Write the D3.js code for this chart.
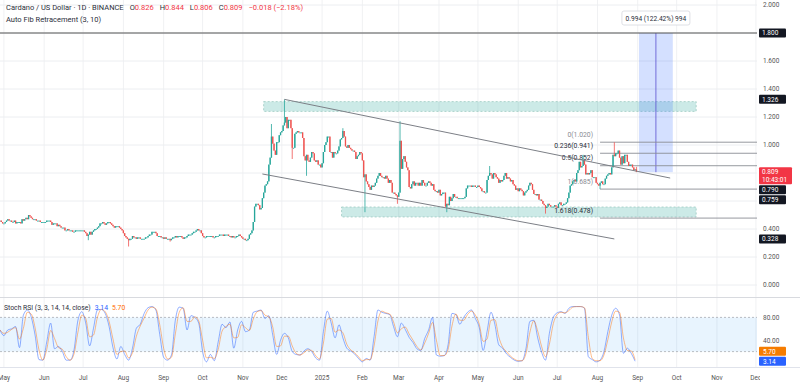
<!DOCTYPE html>
<html><head><meta charset="utf-8">
<script src="https://cdn.jsdelivr.net/npm/d3@7"></script>
<style>body{margin:0;background:#fff;overflow:hidden}svg{display:block;font-family:Roboto,"DejaVu Sans",sans-serif}</style>
</head><body><svg id="c" width="800" height="387"></svg>
<script>
// ---------------- DATA ----------------
const titleText = "Cardano / US Dollar · 1D · BINANCE";
const ohlcLabels = ["O","H","L","C"];
const ohlcValues = ["0.826","0.844","0.806","0.809"];
const changeText = "−0.018 (−2.18%)";
const fibTitle = "Auto Fib Retracement (3, 10)";
const rsiTitle = "Stoch RSI (3, 3, 14, 14, close)";
const rsiLastK = 3.14, rsiLastD = 5.70;

const startDate = "2024-04-28";
const closeApr24 = [0.46,0.45,0.44];
const closeMay24 = [0.44,0.45,0.46,0.47,0.46,0.46,0.45,0.45,0.46,0.44,0.45,0.45,0.45,0.44,0.47,0.46,0.47,0.48,0.47,0.50,0.49,0.48,0.47,0.47,0.47,0.46,0.46,0.46,0.45,0.45,0.45];
const closeJun24 = [0.45,0.45,0.46,0.46,0.46,0.45,0.43,0.44,0.44,0.44,0.42,0.43,0.42,0.41,0.41,0.41,0.39,0.39,0.40,0.39,0.39,0.39,0.38,0.38,0.39,0.39,0.39,0.39,0.39,0.39];
const closeJul24 = [0.39,0.38,0.37,0.35,0.36,0.38,0.36,0.38,0.39,0.40,0.40,0.41,0.42,0.44,0.44,0.45,0.44,0.43,0.44,0.45,0.45,0.44,0.43,0.42,0.41,0.42,0.42,0.42,0.41,0.40,0.39];
const closeAug24 = [0.37,0.35,0.34,0.33,0.32,0.33,0.33,0.35,0.34,0.34,0.33,0.34,0.34,0.33,0.33,0.33,0.33,0.34,0.34,0.35,0.36,0.36,0.38,0.38,0.38,0.37,0.35,0.35,0.35,0.34,0.34];
const closeSep24 = [0.33,0.34,0.33,0.33,0.33,0.32,0.33,0.34,0.34,0.35,0.34,0.35,0.35,0.35,0.34,0.33,0.34,0.34,0.35,0.36,0.36,0.36,0.37,0.38,0.38,0.39,0.40,0.39,0.39,0.37];
const closeOct24 = [0.35,0.34,0.34,0.35,0.35,0.35,0.35,0.35,0.34,0.34,0.35,0.35,0.35,0.36,0.36,0.36,0.35,0.36,0.36,0.36,0.35,0.35,0.34,0.35,0.34,0.34,0.35,0.35,0.36,0.35,0.34];
const closeNov24 = [0.33,0.33,0.32,0.32,0.33,0.36,0.37,0.39,0.45,0.56,0.58,0.58,0.57,0.54,0.55,0.62,0.66,0.71,0.72,0.74,0.86,0.91,1.06,1.01,0.96,0.93,1.02,1.02,1.07,1.09];
const closeDec24 = [1.10,1.14,1.16,1.20,1.12,1.18,1.18,1.12,0.98,0.98,1.08,1.09,1.10,1.09,1.09,1.09,1.05,0.92,0.89,0.93,0.89,0.88,0.91,0.95,0.94,0.89,0.88,0.89,0.86,0.86,0.84];
const closeJan25 = [0.87,0.95,1.00,1.02,1.06,1.06,0.95,0.95,0.91,0.95,0.94,0.94,0.96,0.99,1.04,1.05,1.10,1.06,0.99,0.98,1.00,0.98,0.97,0.96,0.96,0.95,0.90,0.92,0.93,0.95,0.94];
const closeFeb25 = [0.89,0.77,0.79,0.74,0.72,0.70,0.68,0.71,0.70,0.71,0.73,0.76,0.78,0.80,0.78,0.77,0.77,0.76,0.78,0.76,0.73,0.75,0.73,0.66,0.66,0.65,0.64,0.63];
const closeMar25 = [0.66,1.03,0.83,0.90,0.92,0.88,0.84,0.82,0.70,0.69,0.72,0.74,0.71,0.73,0.73,0.71,0.73,0.71,0.75,0.73,0.71,0.71,0.73,0.74,0.73,0.71,0.72,0.68,0.67,0.67,0.66];
const closeApr25 = [0.68,0.64,0.65,0.66,0.66,0.56,0.58,0.57,0.63,0.60,0.62,0.65,0.63,0.63,0.62,0.62,0.62,0.62,0.62,0.62,0.63,0.69,0.71,0.71,0.71,0.70,0.71,0.71,0.70,0.70];
const closeMay25 = [0.71,0.70,0.69,0.67,0.67,0.66,0.66,0.75,0.78,0.80,0.79,0.76,0.80,0.79,0.77,0.76,0.73,0.75,0.74,0.75,0.78,0.80,0.76,0.77,0.76,0.74,0.75,0.72,0.71,0.68,0.69];
const closeJun25 = [0.67,0.69,0.68,0.67,0.64,0.66,0.67,0.68,0.71,0.73,0.72,0.68,0.65,0.65,0.64,0.65,0.61,0.61,0.60,0.58,0.57,0.55,0.56,0.58,0.57,0.56,0.56,0.56,0.57,0.56];
const closeJul25 = [0.55,0.58,0.59,0.57,0.57,0.58,0.58,0.59,0.62,0.66,0.71,0.72,0.74,0.75,0.74,0.80,0.82,0.88,0.84,0.85,0.89,0.86,0.79,0.80,0.79,0.80,0.82,0.77,0.77,0.77,0.73];
const closeAug25 = [0.72,0.71,0.73,0.74,0.72,0.72,0.76,0.78,0.79,0.80,0.79,0.84,0.93,0.92,0.94,0.94,0.96,0.91,0.86,0.92,0.87,0.93,0.93,0.88,0.85,0.86,0.86,0.84,0.82,0.826,0.809];

const wickHigh = [["2024-11-23",1.15],["2024-12-03",1.326],["2025-01-17",1.12],["2025-03-02",1.17],["2025-05-10",0.85],["2025-07-21",0.93],["2025-08-14",1.02],["2025-08-31",0.844]];
const wickLow = [["2024-07-05",0.32],["2024-08-05",0.275],["2024-09-06",0.31],["2024-12-09",0.90],["2024-12-20",0.78],["2025-02-03",0.52],["2025-02-28",0.58],["2025-04-07",0.52],["2025-06-22",0.51],["2025-08-03",0.685],["2025-08-31",0.806]];

// Stoch RSI samples, one every 3 days from startDate
const rsiStepDays = 3;
const rsiK = [58,48,58,60,64,27,84,93,81,49,6,5,37,70,25,29,20,5,5,23,75,90,70,30,61,93,94,87,64,27,7,29,15,5,26,61,68,87,97,99,93,50,10,5,14,75,98,96,58,83,80,70,20,2,15,4,37,68,62,72,26,58,73,55,58,89,91,93,78,83,49,15,40,52,44,20,15,14,21,25,20,9,5,55,91,70,44,67,44,26,21,16,8,2,8,5,46,93,89,87,85,64,46,70,59,45,36,25,22,43,58,80,14,12,13,32,87,85,68,80,89,93,78,62,22,55,89,68,32,26,16,10,5,3,4,26,73,75,44,19,5,52,80,88,90,87,96,99,99,99,96,11,6,2,5,20,55,84,96,84,17,26,17,3.14];
const rsiD = [58,52,54,59,62,42,61,89,86,62,23,5,24,57,43,27,24,11,5,16,54,84,78,46,49,80,94,90,73,42,15,20,21,9,18,47,65,79,93,98,95,67,26,7,10,51,89,97,73,73,81,74,40,9,10,8,24,56,64,68,44,45,67,62,57,77,90,92,84,81,63,29,30,47,47,30,17,14,18,23,22,13,7,35,77,78,54,58,53,33,23,18,11,4,6,6,30,74,91,88,86,72,53,60,63,51,40,29,23,35,52,71,40,13,13,24,65,86,75,75,85,91,84,68,38,42,75,76,46,28,20,12,7,4,4,17,54,74,56,29,11,33,69,85,89,88,92,98,99,99,97,45,8,4,4,14,41,72,91,89,44,22,21,5.70];

// Drawings
const channelUpper = [["2024-12-03",1.326],["2025-09-26",0.764]];
const channelLower = [["2024-11-16",0.793],["2025-08-14",0.329]];
const zoneUpper = {from:"2024-11-17", to:"2025-10-16", top:1.31, bottom:1.24};
const zoneLower = {from:"2025-01-16", to:"2025-10-16", top:0.557, bottom:0.486};
const fibStart = "2025-08-03";
const fibRatios = ["0","0.236","0.5","1","1.618"];
const fibPrices = [1.020,0.941,0.852,0.685,0.478];
const fibStrong = [false,true,true,false,true];
const measure = {from:"2025-09-02", to:"2025-09-28", low:0.806, high:1.800, text:"0.994 (122.42%) 994"};
const targetLine = 1.800;
const priceTicks = [0,0.2,0.4,0.6,0.8,1.0,1.2,1.4,1.6,1.8,2.0];
const priceMarks = [1.800,1.326,0.790,0.759,0.328];
const lastPrice = 0.809, countdown = "10:43:01";
const rsiTicks = [80,40];
const rsiBands = [80,20];

// ---------------- SETUP ----------------
const svg = d3.select("#c");
const W = 800, H = 387, plotR = 757;
const DAY = 864e5;
const parse = s => new Date(s + "T00:00:00Z");
const t0 = parse(startDate);
const x = d3.scaleUtc().domain([parse("2024-04-28"), parse("2025-12-08")]).range([0, 765]);
const y = d3.scaleLinear().domain([0, 2]).range([285, 5]);
const yR = d3.scaleLinear().domain([0, 100]).range([363, 306]);
const up = "#26a69a", dn = "#ef5350", red = "#f23645";

const defs = svg.append("defs");
defs.append("clipPath").attr("id","cp").append("rect").attr("x",0).attr("y",0).attr("width",plotR).attr("height",297);
defs.append("clipPath").attr("id","cr").append("rect").attr("x",0).attr("y",297).attr("width",plotR).attr("height",70);
defs.append("clipPath").attr("id","ct").append("rect").attr("x",0).attr("y",367).attr("width",760).attr("height",20);

// grid
const months = d3.utcMonths(parse("2024-05-01"), parse("2025-12-31"));
svg.append("g").selectAll("line").data(months).join("line")
  .attr("x1", d => x(d)).attr("x2", d => x(d)).attr("y1", 0).attr("y2", 367)
  .attr("stroke", "#f0f1f3").attr("stroke-width", 1);
svg.append("g").selectAll("line").data(priceTicks).join("line")
  .attr("x1", 0).attr("x2", plotR).attr("y1", d => y(d)).attr("y2", d => y(d))
  .attr("stroke", "#eceef1").attr("stroke-width", 1);

// separators
svg.append("line").attr("x1",0).attr("x2",W).attr("y1",297.5).attr("y2",297.5).attr("stroke","#d8dadf");
svg.append("line").attr("x1",0).attr("x2",W).attr("y1",367.5).attr("y2",367.5).attr("stroke","#e0e3eb");

const gp = svg.append("g").attr("clip-path","url(#cp)");

// zones
[zoneUpper, zoneLower].forEach(z => {
  gp.append("rect").attr("x", x(parse(z.from))).attr("y", y(z.top))
    .attr("width", x(parse(z.to)) - x(parse(z.from))).attr("height", y(z.bottom) - y(z.top))
    .attr("fill", "rgba(0,150,136,0.2)").attr("stroke", "#9cc9c1").attr("stroke-width", 0.8).attr("stroke-dasharray", "2,2");
});

// measure box
const mx0 = x(parse(measure.from)), mx1 = x(parse(measure.to));
gp.append("rect").attr("x", mx0).attr("y", y(measure.high)).attr("width", mx1 - mx0).attr("height", y(measure.low) - y(measure.high))
  .attr("fill", "rgba(41,98,255,0.2)");
gp.append("line").attr("x1", (mx0+mx1)/2).attr("x2", (mx0+mx1)/2).attr("y1", y(measure.high)).attr("y2", y(measure.low))
  .attr("stroke", "#5b4fcf").attr("stroke-width", 0.8);

// target horizontal line
gp.append("line").attr("x1", 0).attr("x2", plotR).attr("y1", y(targetLine)).attr("y2", y(targetLine))
  .attr("stroke", "#555").attr("stroke-width", 1);

// fib lines
const fx = x(parse(fibStart));
fibPrices.forEach((p, i) => {
  gp.append("line").attr("x1", fx).attr("x2", plotR).attr("y1", y(p)).attr("y2", y(p))
    .attr("stroke", "#8a8d94").attr("stroke-width", 0.9);
  gp.append("text").attr("x", fx - 7).attr("y", y(p) - 5.5).attr("text-anchor", "end")
    .attr("font-size", 6.8).attr("fill", fibStrong[i] ? "#2a2e39" : "#8a8d94")
    .text(`${fibRatios[i]}(${p.toFixed(3)})`);
});

// candles
const closeSeries = [closeApr24,closeMay24,closeJun24,closeJul24,closeAug24,closeSep24,closeOct24,closeNov24,closeDec24,
  closeJan25,closeFeb25,closeMar25,closeApr25,closeMay25,closeJun25,closeJul25,closeAug25].flat();
const hiMap = new Map(wickHigh), loMap = new Map(wickLow);
const candles = closeSeries.map((c, i) => {
  const date = new Date(+t0 + i * DAY);
  const key = d3.utcFormat("%Y-%m-%d")(date);
  const open = i ? closeSeries[i-1] : c;
  return {date, open, close: c,
    high: hiMap.has(key) ? hiMap.get(key) : Math.max(open, c),
    low: loMap.has(key) ? loMap.get(key) : Math.min(open, c)};
});
const col = d => d.close >= d.open ? up : dn;
gp.append("g").selectAll("line").data(candles).join("line")
  .attr("x1", d => x(d.date)).attr("x2", d => x(d.date))
  .attr("y1", d => y(d.high)).attr("y2", d => y(d.low))
  .attr("stroke", col).attr("stroke-width", 0.8);
gp.append("g").selectAll("rect").data(candles).join("rect")
  .attr("x", d => x(d.date) - 0.65).attr("width", 1.3)
  .attr("y", d => y(Math.max(d.open, d.close)))
  .attr("height", d => Math.max(0.9, Math.abs(y(d.open) - y(d.close))))
  .attr("fill", col);

// channel lines
[channelUpper, channelLower].forEach(l => {
  gp.append("line").attr("x1", x(parse(l[0][0]))).attr("y1", y(l[0][1]))
    .attr("x2", x(parse(l[1][0]))).attr("y2", y(l[1][1]))
    .attr("stroke", "#7c7f86").attr("stroke-width", 1);
});

// measure label
const mlx = (mx0 + mx1) / 2;
svg.append("rect").attr("x", mlx - 34).attr("y", 11).attr("width", 68).attr("height", 14).attr("rx", 2)
  .attr("fill", "#fff").attr("stroke", "#d6d8de").attr("stroke-width", 0.8);
svg.append("text").attr("x", mlx).attr("y", 20.5).attr("text-anchor", "middle").attr("font-size", 6.6)
  .attr("fill", "#2a2e39").text(measure.text);

// header
const hdr = svg.append("text").attr("x", 6).attr("y", 10).attr("font-size", 7.5).attr("fill", "#2a2e39");
hdr.append("tspan").text(titleText);
ohlcLabels.forEach((l, i) => {
  hdr.append("tspan").attr("dx", 6).text(l);
  hdr.append("tspan").attr("fill", red).text(ohlcValues[i]);
});
hdr.append("tspan").attr("dx", 6).attr("fill", red).text(changeText);
svg.append("text").attr("x", 6).attr("y", 22).attr("font-size", 7.5).attr("fill", "#2a2e39").text(fibTitle);

// price axis labels
const boxes = [{v:lastPrice, h:17, fill:red, lines:[lastPrice.toFixed(3), countdown], w:33}]
  .concat(priceMarks.map(v => ({v, h:9, fill:"#131722", lines:[v.toFixed(3)], w:27})));
boxes.forEach(b => b.top = y(b.v) - 4.5);
boxes.sort((a, b) => a.top - b.top);
let prevBottom = -1e9;
boxes.forEach(b => { b.top = Math.max(b.top, prevBottom + 1); prevBottom = b.top + b.h; });
const visibleTicks = priceTicks.filter(t => !boxes.some(b => y(t) > b.top - 4 && y(t) < b.top + b.h + 4));
svg.append("g").selectAll("text").data(visibleTicks).join("text")
  .attr("x", 763).attr("y", d => y(d) + 2.3).attr("font-size", 6.5).attr("fill", "#555")
  .text(d => d.toFixed(3));
boxes.forEach(b => {
  svg.append("rect").attr("x", 759).attr("y", b.top).attr("width", b.w).attr("height", b.h).attr("fill", b.fill).attr("rx", 1);
  b.lines.forEach((t, i) => svg.append("text").attr("x", 762).attr("y", b.top + 6.8 + i * 7.5)
    .attr("font-size", 6.5).attr("fill", "#fff").text(t));
});

// ---------------- STOCH RSI ----------------
const gr = svg.append("g").attr("clip-path", "url(#cr)");
gr.append("rect").attr("x", 0).attr("width", plotR).attr("y", yR(rsiBands[0])).attr("height", yR(rsiBands[1]) - yR(rsiBands[0]))
  .attr("fill", "rgba(33,150,243,0.1)");
rsiBands.forEach(v => gr.append("line").attr("x1", 0).attr("x2", plotR).attr("y1", yR(v)).attr("y2", yR(v))
  .attr("stroke", "#a9acb3").attr("stroke-width", 0.8).attr("stroke-dasharray", "2,2"));
const rdate = i => new Date(+t0 + i * rsiStepDays * DAY);
const rl = d3.line().x((d, i) => x(rdate(i))).y(d => yR(d)).curve(d3.curveMonotoneX);
gr.append("path").attr("d", rl(rsiK)).attr("fill", "none").attr("stroke", "#2962ff").attr("stroke-opacity", 0.5).attr("stroke-width", 1);
gr.append("path").attr("d", rl(rsiD)).attr("fill", "none").attr("stroke", "#ff6d00").attr("stroke-opacity", 0.45).attr("stroke-width", 1);

const rt = svg.append("text").attr("x", 4).attr("y", 310).attr("font-size", 6.8).attr("fill", "#2a2e39");
rt.append("tspan").text(rsiTitle);
rt.append("tspan").attr("dx", 4).attr("fill", "#2962ff").text(rsiLastK.toFixed(2));
rt.append("tspan").attr("dx", 4).attr("fill", "#ff6d00").text(rsiLastD.toFixed(2));

svg.append("g").selectAll("text").data(rsiTicks).join("text")
  .attr("x", 763).attr("y", d => yR(d) + 2.3).attr("font-size", 6.5).attr("fill", "#555").text(d => d.toFixed(2));
const rbox = [{v:rsiLastK, fill:"#2962ff"}, {v:rsiLastD, fill:"#f57c00"}];
let bottomLim = 366;
rbox.forEach(b => {
  let top = Math.min(yR(b.v) - 4.5, bottomLim - 9);
  bottomLim = top - 1;
  svg.append("rect").attr("x", 759).attr("y", top).attr("width", 27).attr("height", 9).attr("fill", b.fill).attr("rx", 1);
  svg.append("text").attr("x", 763).attr("y", top + 6.8).attr("font-size", 6.5).attr("fill", "#fff").text(b.v.toFixed(2));
});

// ---------------- TIME AXIS ----------------
const fmt = d => d.getUTCMonth() === 0 ? d3.utcFormat("%Y")(d) : d3.utcFormat("%b")(d);
svg.append("g").attr("clip-path", "url(#ct)").selectAll("text").data(months).join("text")
  .attr("x", d => x(d)).attr("y", 380).attr("text-anchor", "middle").attr("font-size", 6.5).attr("fill", "#555")
  .text(fmt);
</script>
</body></html>
